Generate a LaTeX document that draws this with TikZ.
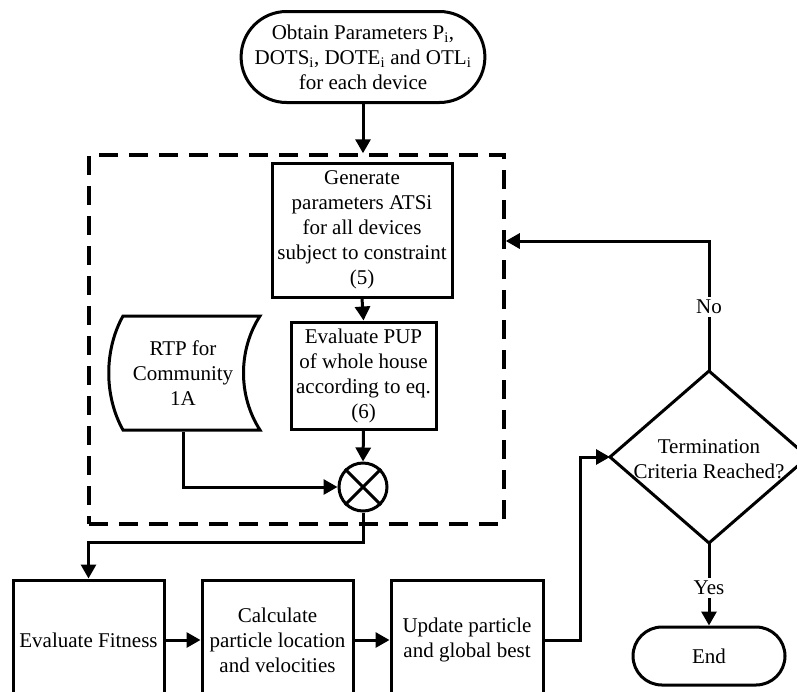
\documentclass[tikz,border=0pt]{standalone}
\usepackage{fontspec}
\setmainfont{Liberation Serif}
\usetikzlibrary{shapes.misc,arrows.meta}
\begin{document}
\begin{tikzpicture}[x=1pt,y=-1pt,line width=3pt,
  every node/.style={font=\fontsize{21}{25}\selectfont,align=center,inner sep=0pt},
  box/.style={draw,rectangle,line width=3pt},
  term/.style={draw,rounded rectangle,line width=3pt},
  arr/.style={-{Triangle[length=14pt,width=15pt]}},
  grpbox/.style={draw,rectangle,line width=3.5pt,dash pattern=on 19pt off 11pt}]
\useasboundingbox (0,0) rectangle (797,691);
% group
\node[grpbox,minimum width=415pt,minimum height=369pt] (grp) at (296.5,339.5) {};
% start
\node[term,minimum width=223pt,minimum height=91pt] (start) at (363,57)
  {Obtain Parameters P\textsubscript{i},\\DOTS\textsubscript{i}, DOTE\textsubscript{i} and OTL\textsubscript{i}\\for each device};
% generate
\node[box,minimum width=180pt,minimum height=134pt] (gen) at (362,230)
  {Generate\\parameters ATSi\\for all devices\\subject to constraint\\(5)};
% pup
\node[box,minimum width=145pt,minimum height=107pt] (pup) at (363.5,375.5)
  {Evaluate PUP\\of whole house\\according to eq.\\(6)};
% rtp stored data shape
\draw (123,316) -- (260,316) .. controls (238,350) and (238,396) .. (260,430)
  -- (123,430) .. controls (104,396) and (104,350) .. (123,316) -- cycle;
\node[minimum height=114pt] (rtp) at (183,373) {RTP for\\Community\\1A};
% summing circle
\node[draw,circle,minimum size=48pt] (circ) at (363,487) {};
\draw (circ.45) -- (circ.225) (circ.135) -- (circ.-45);
% bottom boxes
\node[box,minimum width=151pt,minimum height=120pt] (fit) at (88.5,640) {Evaluate Fitness};
\node[box,minimum width=151pt,minimum height=120pt] (calc) at (277.5,640) {Calculate\\particle location\\and velocities};
\node[box,minimum width=152pt,minimum height=120pt] (upd) at (467,640) {Update particle\\and global best};
% diamond
\coordinate (dl) at (610,457);
\coordinate (dt) at (709,371);
\coordinate (dr) at (808,457);
\coordinate (db) at (709,543);
\draw (dl) -- (dt) -- (dr) -- (db) -- cycle;
\node (term) at (709,459) {Termination\\Criteria Reached?};
% end
\node[term,minimum width=152pt,minimum height=58pt] (end) at (709,656) {End};
% connectors
\draw[arr] (start.south) -- (start.south |- grp.north);
\draw[arr] (gen.south) -- (pup.north);
\draw[arr] (pup.south) -- (circ.north);
\draw[arr] (rtp.south) |- (circ.west);
\coordinate (j1) at (363,542);
\draw[arr] (circ.south) -- (j1) -| (fit.north);
\draw[arr] (fit.east) -- (calc.west);
\draw[arr] (calc.east) -- (upd.west);
\coordinate (k1) at (580,457);
\draw[arr] (upd.east) -| (k1) -- (dl);
\coordinate (n1) at (709,241);
\draw[arr] (dt) -- (n1) -- (grp.east |- n1);
\node[fill=white,inner sep=3pt] (no) at (709,307) {No};
\draw[arr] (db) -- (end.north);
\node[fill=white,inner sep=3pt] (yes) at (709,588) {Yes};
\end{tikzpicture}
\end{document}
